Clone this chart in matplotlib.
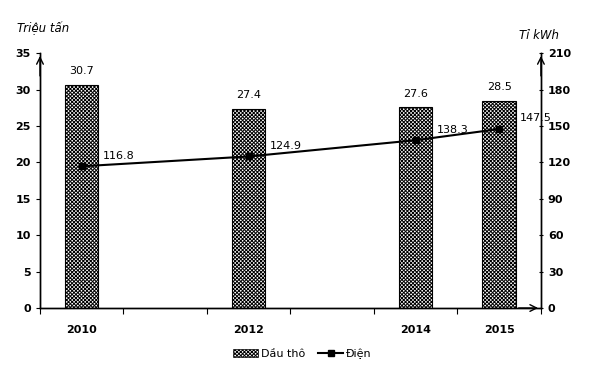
import matplotlib
matplotlib.use("Agg")
import matplotlib.pyplot as plt
from matplotlib.patches import Patch
from matplotlib.lines import Line2D

plt.rcParams['font.family'] = ['DejaVu Sans']
plt.rcParams['hatch.linewidth'] = 0.7

# data
years = ['2010', '2011', '2012', '2013', '2014', '2015']
bar_years = ['2010', '2012', '2014', '2015']
crude_oil = [30.7, 27.4, 27.6, 28.5]      # Triệu tấn
electricity = [116.8, 124.9, 138.3, 147.5]  # Tỉ kWh

pos = [years.index(y) for y in bar_years]

fig = plt.figure(figsize=(6.05, 3.72), dpi=100)
ax = fig.add_axes([0.0661, 0.172, 0.828, 0.685])
ax2 = ax.twinx()

HATCH = 'xxxxxxxxx'
ax.bar(pos, crude_oil, width=0.4, color='white', edgecolor='black',
       hatch=HATCH, linewidth=0.8, zorder=2)
for x, v in zip(pos, crude_oil):
    ax.annotate(f'{v}', (x, v), xytext=(0, 6), textcoords='offset points',
                ha='center', va='bottom', fontsize=8)

ax2.plot(pos, electricity, color='black', lw=1.5, marker='s', markersize=5, zorder=3)
for x, v in zip(pos, electricity):
    ax2.annotate(f'{v}', (x, v), xytext=(15, 4), textcoords='offset points',
                 ha='left', va='bottom', fontsize=8)

ax.set_xlim(-0.5, 5.5)
ax.set_ylim(0, 35)
ax2.set_ylim(0, 210)
ax.set_yticks(range(0, 36, 5))
ax2.set_yticks(range(0, 211, 30))

ax.set_xticks([i + 0.5 for i in range(-1, 6)])
ax.set_xticklabels([])
ax.set_xticks(pos, minor=True)
ax.set_xticklabels(bar_years, minor=True, fontweight='bold', fontsize=8)
ax.tick_params(axis='x', which='minor', length=0, pad=12)
ax.tick_params(axis='x', which='major', length=4, direction='out')
ax.tick_params(axis='y', labelsize=8, length=3)
ax2.tick_params(axis='y', labelsize=8, length=3, direction='inout')
for lbl in ax.get_yticklabels() + ax2.get_yticklabels():
    lbl.set_fontweight('bold')

for a in (ax, ax2):
    a.spines['top'].set_visible(False)
    for s in ('left', 'right', 'bottom'):
        a.spines[s].set_linewidth(1.0)

# axis arrows
arrow = dict(arrowstyle='->', lw=1.0, color='black', mutation_scale=12)
ax.annotate('', xy=(0, 1.0), xytext=(0, 0.9), xycoords='axes fraction', arrowprops=arrow)
ax.annotate('', xy=(1, 1.0), xytext=(1, 0.9), xycoords='axes fraction', arrowprops=arrow)
ax.annotate('', xy=(1.0, 0), xytext=(0.95, 0), xycoords='axes fraction', arrowprops=arrow)

fig.text(0.028, 0.913, 'Triệu tấn', fontsize=8.5, style='italic')
fig.text(0.858, 0.895, 'Tỉ kWh', fontsize=8.5, style='italic')

handles = [Patch(facecolor='white', edgecolor='black', hatch=HATCH, linewidth=0.5),
           Line2D([0], [0], color='black', lw=1.5, marker='s', markersize=5)]
fig.legend(handles, ['Dầu thô', 'Điện'], loc='center', bbox_to_anchor=(0.5, 0.05),
           ncol=2, frameon=False, fontsize=8, handlelength=2.2, handletextpad=0.3,
           columnspacing=1.2)

fig.savefig('out.png', dpi=100)
